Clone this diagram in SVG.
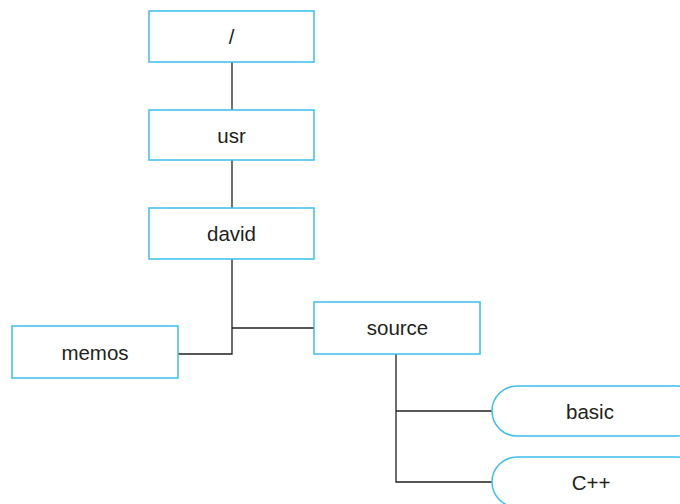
<svg xmlns="http://www.w3.org/2000/svg" width="680" height="504" viewBox="0 0 680 504">
<style>
.box{fill:#fff;stroke:#3cbfea;stroke-width:1.5}
.lbl{font-family:"Liberation Sans",Arial,sans-serif;font-size:20.5px;fill:#231f20;text-anchor:middle}
.con{fill:none;stroke:#231f20;stroke-width:1.3}
</style>
<rect width="680" height="504" fill="#fff"/>
<g id="connectors">
<path class="con" d="M232 62V110"/>
<path class="con" d="M232 160V208"/>
<path class="con" d="M232 259V354H178"/>
<path class="con" d="M232 328H314"/>
<path class="con" d="M396 354V482H492"/>
<path class="con" d="M396 411H492"/>
</g>
<g id="root"><rect class="box" x="149" y="11" width="165" height="51"/><text class="lbl" x="231.5" y="44">/</text></g>
<g id="usr"><rect class="box" x="149" y="110" width="165" height="50"/><text class="lbl" x="231.5" y="143">usr</text></g>
<g id="david"><rect class="box" x="149" y="208" width="165" height="51"/><text class="lbl" x="231.5" y="241">david</text></g>
<g id="memos"><rect class="box" x="12" y="326" width="166" height="52"/><text class="lbl" x="95" y="360">memos</text></g>
<g id="source"><rect class="box" x="314" y="302" width="166" height="52"/><text class="lbl" x="397.5" y="335">source</text></g>
<g id="basic"><rect class="box" x="492" y="386" width="210" height="50" rx="25"/><text class="lbl" x="590" y="419">basic</text></g>
<g id="cpp"><rect class="box" x="492" y="457" width="210" height="50" rx="25"/><text class="lbl" x="591" y="490">C++</text></g>
</svg>
